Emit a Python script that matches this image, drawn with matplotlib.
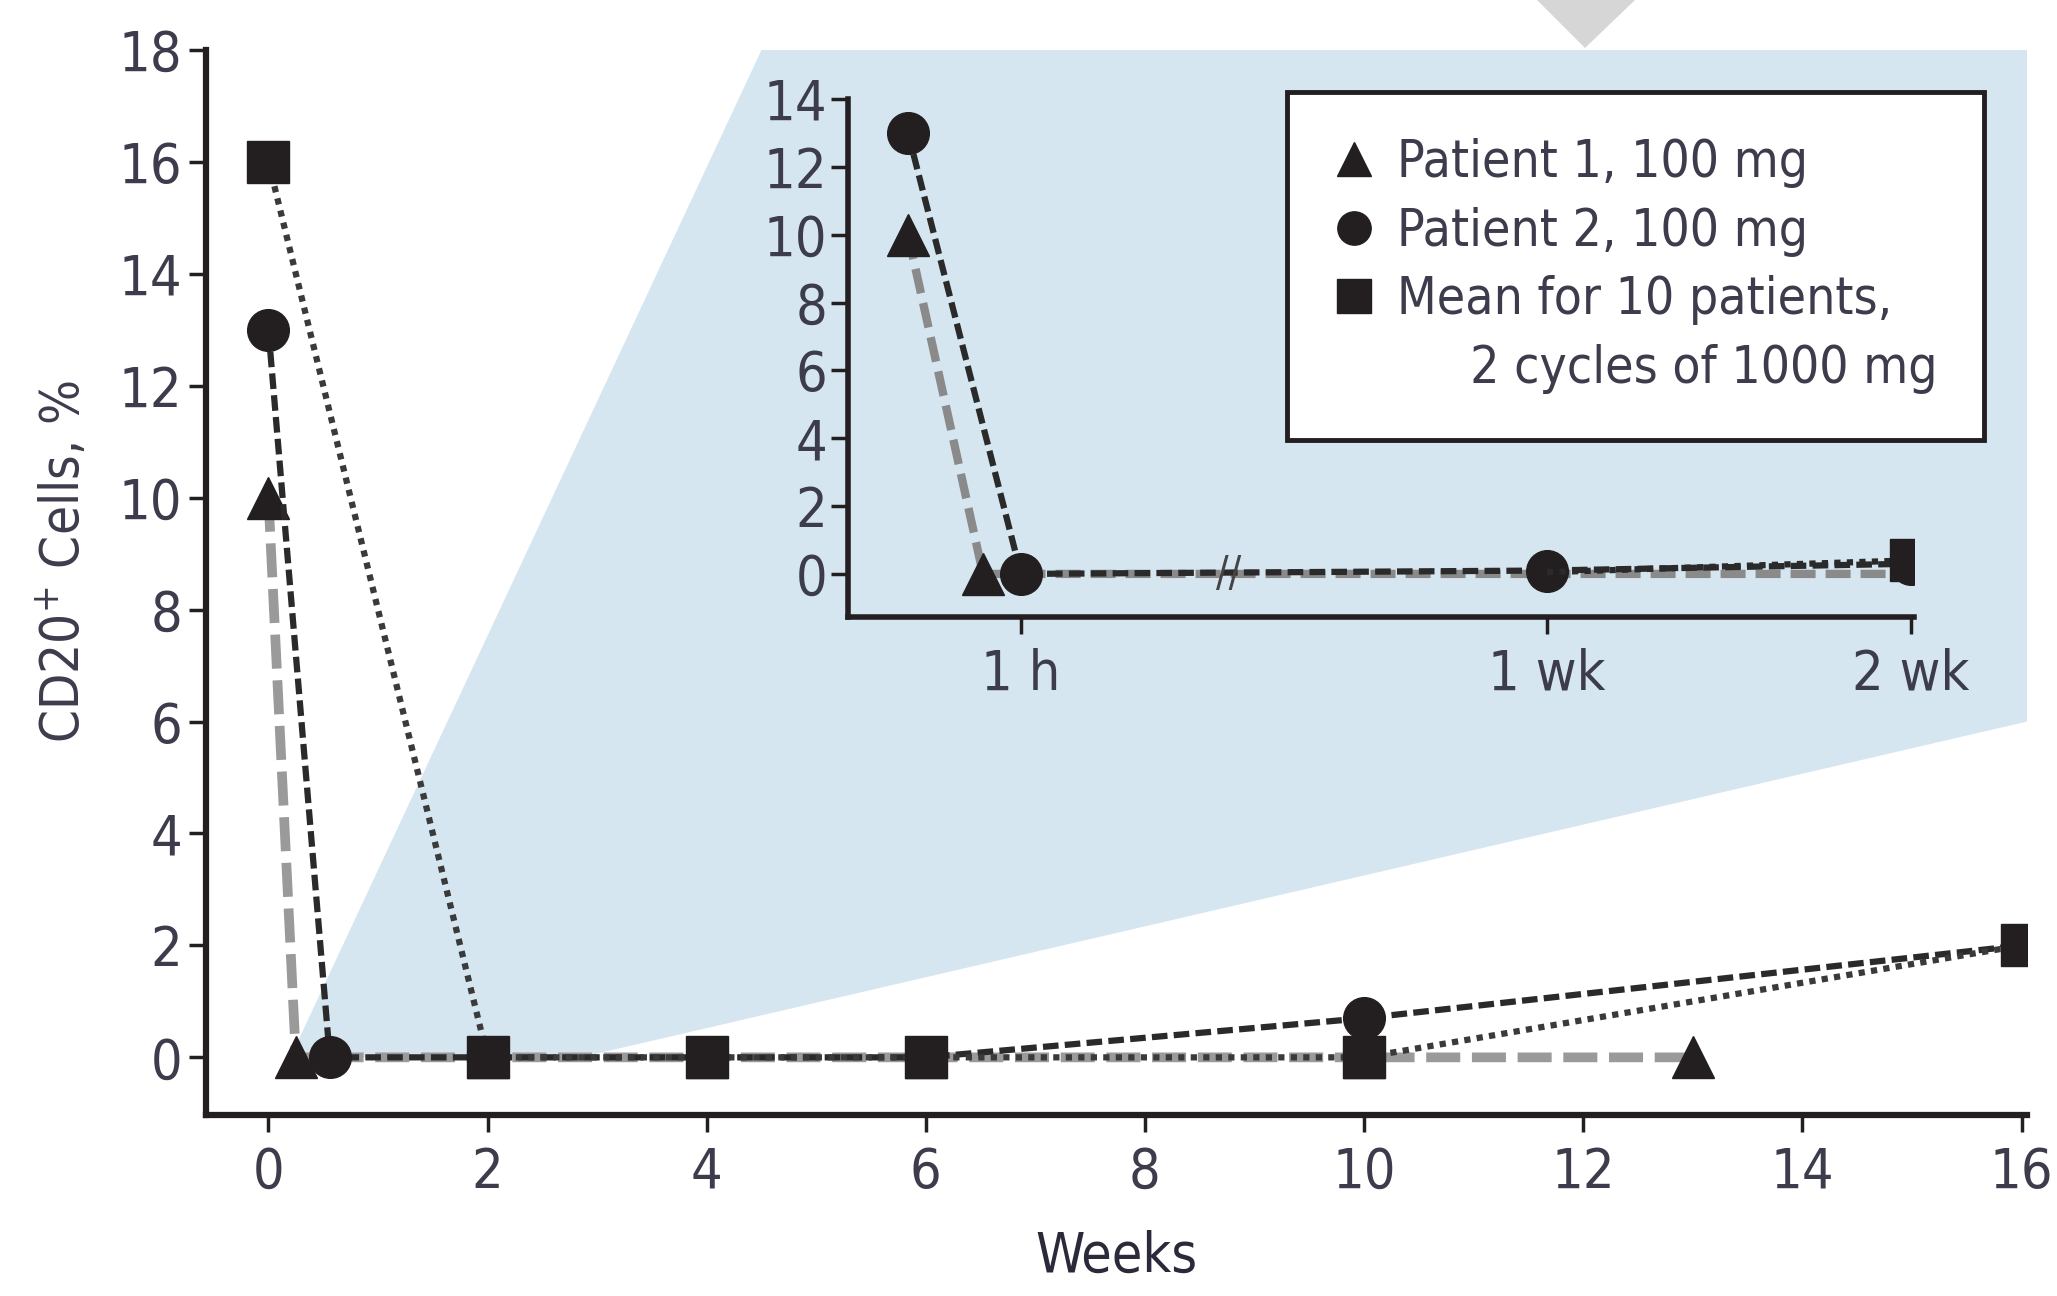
import matplotlib
matplotlib.use("Agg")
import matplotlib.pyplot as plt
from matplotlib.lines import Line2D
from matplotlib.patches import Polygon
from matplotlib import font_manager

# ---------------- data ----------------
weeks_p1 = [0, 0.25, 2, 4, 6, 10, 13]
cd20_p1 = [10, 0, 0, 0, 0, 0, 0]
weeks_p2 = [0, 0.56, 2, 4, 6, 10, 16]
cd20_p2 = [13, 0, 0, 0, 0, 0.7, 2.0]
weeks_mean = [0, 2, 4, 6, 10, 16]
cd20_mean = [16, 0, 0, 0, 0, 2.0]

main_xticks = [0, 2, 4, 6, 8, 10, 12, 14, 16]
main_yticks = [0, 2, 4, 6, 8, 10, 12, 14, 16, 18]

# inset (broken time axis, positions along the drawn axis)
inset_pos_p1 = [0.6, 1.35, 6.99, 10.63]
inset_p1 = [10, 0, 0, 0]
inset_pos_p2 = [0.6, 1.73, 6.99, 10.63]
inset_p2 = [13, 0, 0.1, 0.3]
inset_pos_mean = [6.99, 10.63]
inset_mean = [0.05, 0.4]
inset_xticks = [1.73, 6.99, 10.63]
inset_xticklabels = ["1 h", "1 wk", "2 wk"]
inset_yticks = [0, 2, 4, 6, 8, 10, 12, 14]
inset_break = 3.81

labels = ["Patient 1, 100 mg", "Patient 2, 100 mg", "Mean for 10 patients,",
          "     2 cycles of 1000 mg"]

# ---------------- style ----------------
names = {f.name for f in font_manager.fontManager.ttflist}
fam = [n for n in ["Liberation Sans Narrow", "DejaVu Sans"] if n in names]
plt.rcParams["font.family"] = fam
if "Liberation Sans Narrow" not in names:
    plt.rcParams["font.stretch"] = "condensed"

TXT = "#3c3c4c"
BLUE = "#d6e6f0"
DARK = "#231f20"
FS = 40
W, H = 2057, 1296

fig = plt.figure(figsize=(W / 100, H / 100), dpi=100)

# top grey triangle (decoration cropped from neighbouring panel)
fig.patches.append(Polygon([(1537 / W, 1.0), (1635 / W, 1.0), (1585 / W, 1 - 48 / H)],
                           closed=True, transform=fig.transFigure,
                           facecolor="#d6d6d6", edgecolor="none"))

ax = fig.add_axes([206 / W, 1 - 1115 / H, (2027 - 206) / W, (1115 - 50) / H])
ax.set_xlim(-0.57, 16.05)
ax.set_ylim(-1.03, 18)

# zoom callout shading
ax.add_patch(Polygon([(0.2, 0), (4.5, 18), (16.05, 18), (16.05, 6.0), (2.85, 0)],
                     closed=True, facecolor=BLUE, edgecolor="none", zorder=0,
                     clip_on=False))

ms = 30
ax.plot(weeks_p1, cd20_p1, color="#9a9a9a", lw=7, dashes=(3.5, 1.2),
        marker="^", ms=ms, mfc=DARK, mec=DARK, zorder=3)
ax.plot(weeks_p2, cd20_p2, color="#2a2a2a", lw=4.5, dashes=(2.5, 1.0),
        marker="o", ms=ms, mfc=DARK, mec=DARK, zorder=4)
ax.plot(weeks_mean, cd20_mean, color="#3a3a3a", lw=4.5, dashes=(1, 1.0),
        marker="s", ms=ms, mfc=DARK, mec=DARK, zorder=5)

for s in ["top", "right"]:
    ax.spines[s].set_visible(False)
for s in ["left", "bottom"]:
    ax.spines[s].set_linewidth(4.5)
    ax.spines[s].set_color(DARK)
ax.set_xticks(main_xticks)
ax.set_yticks(main_yticks)
ax.tick_params(axis="both", length=12, width=2.5, color=DARK,
               labelsize=FS, labelcolor=TXT)
ax.tick_params(axis="x", pad=10)
ax.tick_params(axis="y", pad=5)
ax.set_xlabel("Weeks", fontsize=FS, color="#2a2a3a", labelpad=22)
ax.set_ylabel("CD20$^{+}$ Cells, %", fontsize=FS - 2, color=TXT)
ax.yaxis.set_label_coords(-0.063, 0.52)

# ---------------- inset ----------------
axi = fig.add_axes([848 / W, 1 - 617 / H, (1914 - 848) / W, (617 - 99) / H])
axi.set_facecolor("none")
axi.set_xlim(0, 10.66)
axi.set_ylim(-1.27, 14)
axi.plot(inset_pos_p1, inset_p1, color="#8a8a8a", lw=6, dashes=(3, 1.2),
         marker="^", ms=ms, mfc=DARK, mec=DARK, zorder=3,
         markevery=[0, 1])
axi.plot(inset_pos_p2, inset_p2, color="#2a2a2a", lw=4.5, dashes=(2.5, 1.0),
         marker="o", ms=ms, mfc=DARK, mec=DARK, zorder=4)
axi.plot(inset_pos_mean, inset_mean, color="#2a2a2a", lw=4.5, dashes=(1, 1.0),
         marker="s", ms=ms, mfc=DARK, mec=DARK, zorder=5,
         markevery=[1])
axi.text(inset_break, 0, "//", fontsize=30, color="#444444",
         ha="center", va="center", zorder=6)
for s in ["top", "right"]:
    axi.spines[s].set_visible(False)
for s in ["left", "bottom"]:
    axi.spines[s].set_linewidth(4)
    axi.spines[s].set_color(DARK)
axi.set_xticks(inset_xticks)
axi.set_xticklabels(inset_xticklabels)
axi.set_yticks(inset_yticks)
axi.tick_params(axis="both", length=12, width=2.5, color=DARK,
                labelsize=FS, labelcolor=TXT)
axi.tick_params(axis="x", pad=10)
axi.tick_params(axis="y", pad=3)

# ---------------- legend ----------------
handles = [
    Line2D([], [], ls="none", marker="^", ms=24, color=DARK),
    Line2D([], [], ls="none", marker="o", ms=24, color=DARK),
    Line2D([], [], ls="none", marker="s", ms=24, color=DARK),
    Line2D([], [], ls="none", marker=None),
]
leg = fig.legend(handles, labels, loc="upper left",
                 bbox_to_anchor=(1287 / W, 1 - 92 / H),
                 fontsize=FS - 3, frameon=True, fancybox=False,
                 edgecolor=DARK, facecolor="white", framealpha=1,
                 labelspacing=0.36, handlelength=0.8, handletextpad=0.45,
                 borderpad=0.9, borderaxespad=0)
leg.get_frame().set_linewidth(3.5)
for t in leg.get_texts():
    t.set_color(TXT)

fig.savefig("out.png", dpi=100)
